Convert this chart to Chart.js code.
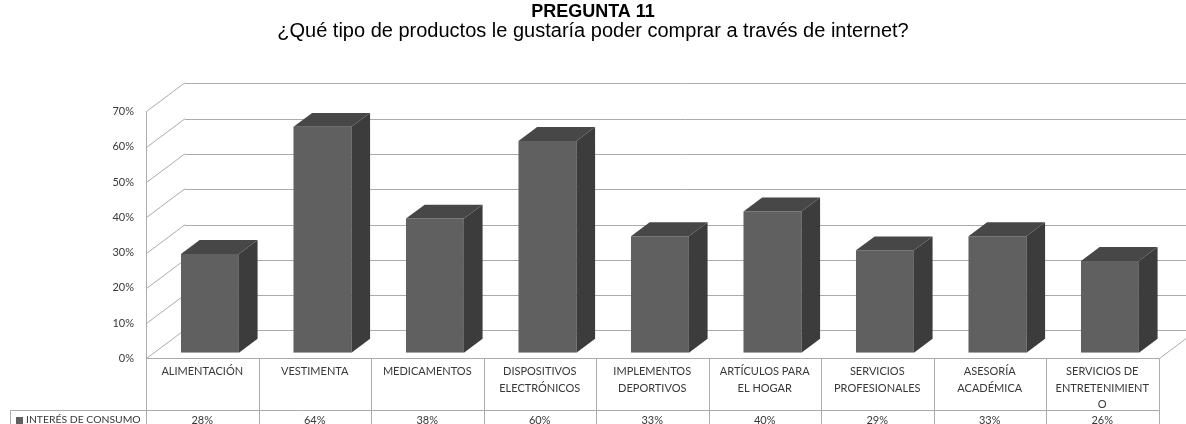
<!DOCTYPE html>
<html lang="es">
<head>
<meta charset="utf-8">
<title>Pregunta 11</title>
<script src="https://cdn.jsdelivr.net/npm/chart.js@4.4.1/dist/chart.umd.min.js"></script>
<style>
  html, body { margin: 0; padding: 0; background: #fff; }
  #chart { display: block; }
</style>
</head>
<body>
<canvas id="chart" width="1186" height="424"></canvas>
<script>
const categories = [
  ['ALIMENTACIÓN'],
  ['VESTIMENTA'],
  ['MEDICAMENTOS'],
  ['DISPOSITIVOS', 'ELECTRÓNICOS'],
  ['IMPLEMENTOS', 'DEPORTIVOS'],
  ['ARTÍCULOS PARA', 'EL HOGAR'],
  ['SERVICIOS', 'PROFESIONALES'],
  ['ASESORÍA', 'ACADÉMICA'],
  ['SERVICIOS DE', 'ENTRETENIMIENT', 'O']
]
const interesConsumo = [0.28, 0.64, 0.38, 0.60, 0.33, 0.40, 0.29, 0.33, 0.26]
const seriesName = 'INTERÉS DE CONSUMO'
const yMax = 0.7
const yStep = 0.1

// 3D look: walls depth and where the bars sit inside it
const DEPTH_X = 38.5
const DEPTH_Y = -28.8
const BAR_FRONT = 0.2
const BAR_BACK = 0.685

const labelFont = { family: 'Lato', size: 11, lineHeight: 1.5 }
const textColor = '#383838'
const lineColor = '#ababab'
const frontColor = '#606060'
const sideColor = '#3c3c3c'
const topColor = '#474747'

const pct = v => Math.round(v * 100) + '%'
const crisp = v => Math.round(v) + 0.5

function line(ctx, x1, y1, x2, y2) {
  ctx.beginPath()
  ctx.moveTo(x1, y1)
  ctx.lineTo(x2, y2)
  ctx.stroke()
}

const wallsAndTable = {
  id: 'wallsAndTable',
  beforeDatasetsDraw(chart) {
    const { ctx, chartArea, scales: { x, y } } = chart
    const fx = -BAR_FRONT * DEPTH_X
    const fy = -BAR_FRONT * DEPTH_Y
    const left = crisp(chartArea.left + fx)
    const right = crisp(chartArea.right + fx)
    const zero = crisp(y.getPixelForValue(0) + fy)

    ctx.save()
    ctx.strokeStyle = lineColor
    ctx.lineWidth = 1

    // side wall diagonals and back wall gridlines
    y.ticks.forEach(t => {
      const py = crisp(y.getPixelForValue(t.value) + fy)
      line(ctx, left, py, left + DEPTH_X, py + DEPTH_Y)
      line(ctx, left + DEPTH_X, crisp(py + DEPTH_Y), chart.width, crisp(py + DEPTH_Y))
    })
    // front axis edge, running on down as the table border
    line(ctx, left, crisp(y.getPixelForValue(yMax) + fy), left, chart.height)
    // floor right edge
    line(ctx, right, zero, right + DEPTH_X, zero + DEPTH_Y)

    // data table
    line(ctx, left, zero, right, zero)
    for (let k = 1; k <= categories.length; k++) {
      const bx = crisp(x.getPixelForValue(k - 0.5) + fx)
      line(ctx, bx, zero, bx, chart.height)
    }
    const rowY = crisp(zero + 51)
    line(ctx, 10.5, rowY, right, rowY)
    line(ctx, 10.5, rowY, 10.5, chart.height)

    ctx.font = `${labelFont.size}px ${labelFont.family}`
    ctx.fillStyle = textColor
    ctx.textBaseline = 'middle'
    ctx.textAlign = 'center'
    const valueY = rowY + 9.5
    interesConsumo.forEach((v, i) => {
      ctx.fillText(pct(v), x.getPixelForValue(i) + fx, valueY)
    })
    ctx.textAlign = 'left'
    ctx.font = `10.4px ${labelFont.family}`
    ctx.fillText(seriesName, 26, valueY)
    ctx.fillStyle = frontColor
    ctx.fillRect(16, Math.round(valueY - 3.5), 7, 7)
    ctx.restore()
  },
  afterDatasetsDraw(chart) {
    const { ctx } = chart
    const dx = (BAR_BACK - BAR_FRONT) * DEPTH_X
    const dy = (BAR_BACK - BAR_FRONT) * DEPTH_Y
    ctx.save()
    chart.getDatasetMeta(0).data.forEach(bar => {
      const { x, y, base, width } = bar.getProps(['x', 'y', 'base', 'width'], true)
      const l = x - width / 2
      const r = x + width / 2
      ctx.fillStyle = sideColor
      ctx.beginPath()
      ctx.moveTo(r, y)
      ctx.lineTo(r + dx, y + dy)
      ctx.lineTo(r + dx, base + dy)
      ctx.lineTo(r, base)
      ctx.closePath()
      ctx.fill()
      ctx.fillStyle = topColor
      ctx.beginPath()
      ctx.moveTo(l, y)
      ctx.lineTo(l + dx, y + dy)
      ctx.lineTo(r + dx, y + dy)
      ctx.lineTo(r, y)
      ctx.closePath()
      ctx.fill()
    })
    ctx.restore()
  }
}

const ctx = document.getElementById('chart').getContext('2d')
const chart = new Chart(ctx, {
  type: 'bar',
  data: {
    labels: categories,
    datasets: [
      {
        label: seriesName,
        data: interesConsumo,
        backgroundColor: frontColor,
        borderWidth: 0,
        categoryPercentage: 1,
        barPercentage: 0.515
      }
    ]
  },
  options: {
    responsive: false,
    devicePixelRatio: 1,
    animation: false,
    layout: { padding: { left: 19.8, right: 19.8, top: 0, bottom: 0 } },
    plugins: {
      legend: { display: false },
      tooltip: { enabled: false },
      title: {
        display: true,
        text: 'PREGUNTA 11',
        color: '#000',
        font: { family: 'Liberation Sans', size: 18, weight: 'bold', lineHeight: 1 },
        padding: { top: 3, bottom: 0 }
      },
      subtitle: {
        display: true,
        text: '¿Qué tipo de productos le gustaría poder comprar a través de internet?',
        color: '#000',
        font: { family: 'Liberation Sans', size: 20, lineHeight: 1 },
        padding: { top: 0, bottom: 64.7 }
      }
    },
    scales: {
      x: {
        grid: { display: false, drawTicks: false },
        border: { display: false },
        ticks: {
          font: { family: 'Lato', size: 11, lineHeight: 1.5 },
          color: textColor,
          padding: 11,
          labelOffset: -BAR_FRONT * DEPTH_X,
          maxRotation: 0,
          autoSkip: false
        },
        afterFit: scale => { scale.height = 71.3 }
      },
      y: {
        min: 0,
        max: yMax,
        grid: { display: false, drawTicks: false },
        border: { display: false },
        ticks: {
          stepSize: yStep,
          callback: v => pct(v),
          font: labelFont,
          color: textColor,
          padding: 19.7,
          labelOffset: -BAR_FRONT * DEPTH_Y
        },
        afterFit: scale => { scale.width = 133.9 }
      }
    }
  },
  plugins: [wallsAndTable]
})
</script>
</body>
</html>
